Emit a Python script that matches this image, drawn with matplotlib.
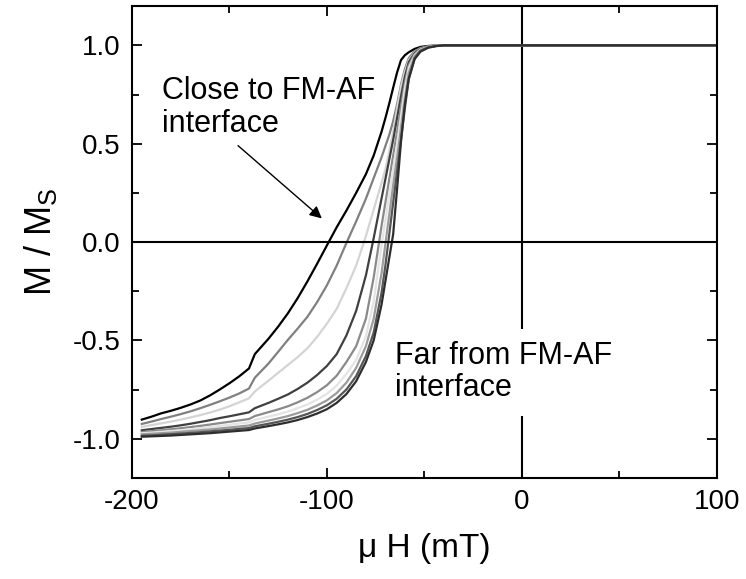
import matplotlib
matplotlib.use("Agg")
import matplotlib.pyplot as plt
from matplotlib.ticker import MultipleLocator

plt.rcParams['font.family'] = ['Liberation Sans', 'DejaVu Sans']
plt.rcParams['mathtext.fontset'] = 'custom'
plt.rcParams['mathtext.rm'] = 'Liberation Sans'
plt.rcParams['axes.unicode_minus'] = False

# Applied field (mT)
field = [-195, -190, -185, -180, -175, -170, -165, -160, -155, -150, -145, -140,
         -137, -130, -125, -120, -115, -110, -105, -100, -95, -90, -85, -80, -76,
         -72, -70, -68, -66, -64, -62, -60, -58, -55, -52, -48, -44, -40, -30,
         -20, 0, 50, 100]

# Normalised magnetisation for layers, from the FM-AF interface outwards
m_layer1 = [-0.903, -0.888, -0.871, -0.858, -0.843, -0.826, -0.806, -0.780, -0.750,
            -0.718, -0.683, -0.643, -0.570, -0.492, -0.430, -0.362, -0.285, -0.200,
            -0.110, -0.017, 0.075, 0.160, 0.250, 0.345, 0.440, 0.560, 0.630, 0.705,
            0.785, 0.862, 0.925, 0.950, 0.965, 0.982, 0.992, 0.997, 0.999, 1.0,
            1.0, 1.0, 1.0, 1.0, 1.0]
m_layer2 = [-0.925, -0.913, -0.900, -0.888, -0.875, -0.861, -0.845, -0.828, -0.810,
            -0.791, -0.770, -0.745, -0.690, -0.618, -0.558, -0.497, -0.440, -0.380,
            -0.305, -0.220, -0.120, -0.005, 0.105, 0.220, 0.325, 0.430, 0.488, 0.545,
            0.615, 0.700, 0.800, 0.880, 0.935, 0.970, 0.987, 0.995, 0.998, 1.0,
            1.0, 1.0, 1.0, 1.0, 1.0]
m_layer3 = [-0.940, -0.931, -0.922, -0.913, -0.903, -0.892, -0.880, -0.867, -0.852,
            -0.835, -0.815, -0.795, -0.760, -0.705, -0.665, -0.625, -0.585, -0.540,
            -0.482, -0.415, -0.340, -0.235, -0.120, 0.030, 0.165, 0.300, 0.370, 0.460,
            0.560, 0.680, 0.790, 0.865, 0.925, 0.963, 0.983, 0.994, 0.998, 1.0,
            1.0, 1.0, 1.0, 1.0, 1.0]
m_layer4 = [-0.957, -0.951, -0.945, -0.939, -0.932, -0.924, -0.915, -0.906, -0.895,
            -0.886, -0.876, -0.866, -0.845, -0.818, -0.797, -0.775, -0.747, -0.715,
            -0.676, -0.630, -0.570, -0.475, -0.350, -0.170, 0.020, 0.220, 0.320, 0.420,
            0.520, 0.630, 0.740, 0.840, 0.915, 0.960, 0.982, 0.994, 0.998, 1.0,
            1.0, 1.0, 1.0, 1.0, 1.0]
m_layer5 = [-0.966, -0.962, -0.957, -0.952, -0.947, -0.941, -0.935, -0.928, -0.921,
            -0.914, -0.907, -0.900, -0.885, -0.865, -0.851, -0.835, -0.815, -0.792,
            -0.763, -0.728, -0.680, -0.610, -0.530, -0.390, -0.180, 0.080, 0.200, 0.320,
            0.440, 0.560, 0.690, 0.810, 0.900, 0.955, 0.980, 0.993, 0.998, 1.0,
            1.0, 1.0, 1.0, 1.0, 1.0]
m_layer6 = [-0.972, -0.969, -0.965, -0.961, -0.957, -0.952, -0.947, -0.941, -0.935,
            -0.929, -0.923, -0.917, -0.905, -0.888, -0.876, -0.862, -0.845, -0.826,
            -0.801, -0.772, -0.730, -0.670, -0.600, -0.480, -0.300, -0.020, 0.110, 0.240,
            0.370, 0.500, 0.640, 0.780, 0.885, 0.950, 0.978, 0.992, 0.998, 1.0,
            1.0, 1.0, 1.0, 1.0, 1.0]
m_layer7 = [-0.978, -0.975, -0.972, -0.969, -0.965, -0.961, -0.957, -0.953, -0.948,
            -0.943, -0.938, -0.933, -0.923, -0.908, -0.897, -0.885, -0.870, -0.853,
            -0.831, -0.805, -0.768, -0.715, -0.640, -0.530, -0.390, -0.160, -0.010, 0.140,
            0.290, 0.430, 0.580, 0.730, 0.860, 0.945, 0.976, 0.991, 0.997, 1.0,
            1.0, 1.0, 1.0, 1.0, 1.0]
m_layer8 = [-0.985, -0.983, -0.980, -0.977, -0.974, -0.971, -0.967, -0.963, -0.959,
            -0.955, -0.950, -0.946, -0.937, -0.924, -0.914, -0.903, -0.890, -0.874,
            -0.854, -0.830, -0.797, -0.750, -0.682, -0.580, -0.460, -0.260, -0.120, 0.040,
            0.200, 0.360, 0.520, 0.680, 0.830, 0.935, 0.972, 0.990, 0.997, 1.0,
            1.0, 1.0, 1.0, 1.0, 1.0]
m_layer9 = [-0.990, -0.988, -0.986, -0.984, -0.981, -0.978, -0.975, -0.972, -0.968,
            -0.964, -0.960, -0.956, -0.948, -0.936, -0.927, -0.917, -0.905, -0.890,
            -0.872, -0.850, -0.818, -0.773, -0.708, -0.610, -0.500, -0.320, -0.200, -0.080,
            0.040, 0.270, 0.510, 0.700, 0.830, 0.930, 0.968, 0.988, 0.996, 1.0,
            1.0, 1.0, 1.0, 1.0, 1.0]

layers = [m_layer1, m_layer2, m_layer3, m_layer4, m_layer5,
          m_layer6, m_layer7, m_layer8, m_layer9]
colors = ['#000000', '#808080', '#d4d4d4', '#404040', '#8a8a8a',
          '#e4e4e4', '#9c9c9c', '#555555', '#2e2e2e']

fig = plt.figure(figsize=(7.46, 5.79), dpi=100)
ax = fig.add_axes([0.177, 0.1744, 0.7837, 0.8152])

for m, c in zip(layers, colors):
    ax.plot(field, m, color=c, lw=1.6, solid_joinstyle='round', zorder=2)

# Zero lines: the vertical one sits beneath the label box, the horizontal one on top
ax.axhline(0, color='black', lw=1.5, zorder=3)
ax.axvline(0, color='black', lw=1.5, zorder=1.5)

ax.set_xlim(-200, 100)
ax.set_ylim(-1.2, 1.2)
ax.xaxis.set_minor_locator(MultipleLocator(50))
ax.yaxis.set_minor_locator(MultipleLocator(0.25))
ax.set_xticks([-200, -100, 0, 100])
ax.set_xticklabels(['-200', '-100', '0', '100'])
ax.set_yticks([-1.0, -0.5, 0.0, 0.5, 1.0])
ax.set_yticklabels(['-1.0', '-0.5', '0.0', '0.5', '1.0'])
ax.tick_params(which='both', direction='in', top=True, right=True,
               width=1.3, labelsize=20, pad=8)
ax.tick_params(which='major', length=7)
ax.tick_params(which='minor', length=5)
for s in ax.spines.values():
    s.set_linewidth(1.5)

ax.set_xlabel('\u03bc H (mT)', fontsize=24, labelpad=13)
ax.set_ylabel('M / M$_{\\rm S}$', fontsize=26, labelpad=10)

ax.text(-184.8, 0.557, 'Close to FM-AF\ninterface', fontsize=22,
        ha='left', va='baseline', linespacing=1.15, zorder=4)
ax.annotate('', xy=(-102.6, 0.12), xytext=(-145.6, 0.49),
            arrowprops=dict(arrowstyle='-|>', color='black', lw=1.0,
                            mutation_scale=18, shrinkA=0, shrinkB=0), zorder=4)
ax.text(-65, -0.785, 'Far from FM-AF\ninterface', fontsize=22,
        ha='left', va='baseline', linespacing=1.1, zorder=1.8,
        bbox=dict(facecolor='white', edgecolor='none', pad=9))

fig.savefig('out.png', dpi=100)
